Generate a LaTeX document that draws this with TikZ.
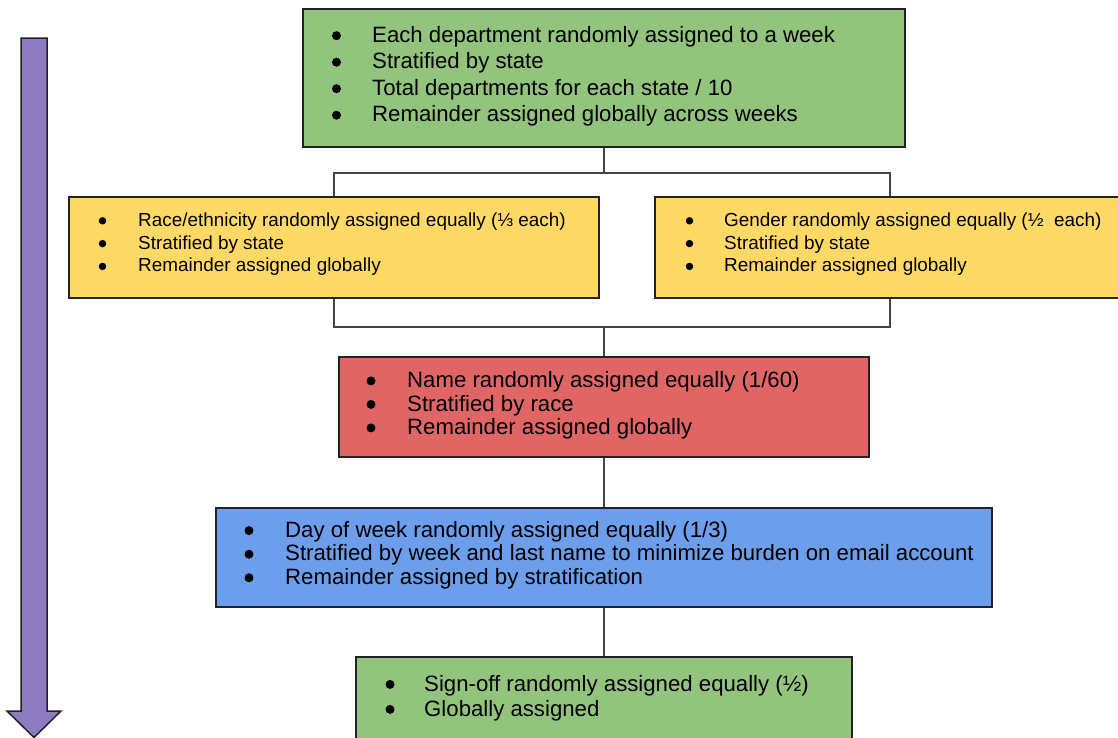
\documentclass[tikz,border=0pt]{standalone}
\usepackage{fontspec}
\setmainfont{Liberation Sans}
\usetikzlibrary{backgrounds}
\definecolor{ggreen}{HTML}{93C47D}
\definecolor{gyellow}{HTML}{FFD966}
\definecolor{gred}{HTML}{E06666}
\definecolor{gblue}{HTML}{6D9EEB}
\definecolor{gpurple}{HTML}{8E7CC3}
\definecolor{edge}{HTML}{222222}
\definecolor{cline}{HTML}{444444}
\begin{document}
\begin{tikzpicture}[x=1pt,y=-1pt,
  box/.style={draw=edge, line width=1.8pt, anchor=north west, inner sep=0pt, outer sep=0pt},
  conn/.style={draw=cline, line width=1.3pt},
  bigdot/.style={circle, fill=black, inner sep=0pt, minimum size=9pt},
  smalldot/.style={circle, fill=black, inner sep=0pt, minimum size=7.5pt},
  txt/.style={anchor=base west, inner sep=0pt},
  big/.style={font=\fontsize{22.2}{26}\selectfont},
  small/.style={font=\fontsize{18.9}{22}\selectfont}]
\useasboundingbox (0,0) rectangle (1118,737);
\clip (0,0) rectangle (1118,737);

% boxes
\node[box, fill=ggreen, minimum width=602pt, minimum height=138pt] (top) at (303,9) {};
\node[box, fill=gyellow, minimum width=530pt, minimum height=101pt] (lb) at (69,197) {};
\node[box, fill=gyellow, minimum width=470pt, minimum height=101pt] (rb) at (655,197) {};
\node[box, fill=gred, minimum width=530pt, minimum height=100pt] (red) at (339,357) {};
\node[box, fill=gblue, minimum width=776pt, minimum height=99pt] (blue) at (216,508) {};
\node[box, fill=ggreen, minimum width=496pt, minimum height=100pt] (g2) at (356,657) {};

% connectors (behind the boxes)
\coordinate (jt) at (604,173);
\coordinate (jb) at (604,327);
\begin{scope}[on background layer]
\fill[white] (0,0) rectangle (1118,737);
\draw[conn] (top.south) -- (jt);
\draw[conn] (lb.north) |- (jt) -| (rb.north);
\draw[conn] (lb.south) |- (jb) -| (rb.south);
\draw[conn] (jb) -- (red.north);
\draw[conn] (red.south) -- (blue.north);
\draw[conn] (blue.south) -- (g2.north);
\end{scope}

% texts
\foreach \t [count=\i] in {{Each department randomly assigned to a week},{Stratified by state},{Total departments for each state / 10},{Remainder assigned globally across weeks}}{
  \node[bigdot] (top-b\i) at (336.5,{42.3-6.6+26.5*(\i-1)}) {};
  \node[txt,big] (top-t\i) at (372,{42.3+26.5*(\i-1)}) {\t};
}
\foreach \t [count=\i] in {{Race/ethnicity randomly assigned equally (⅓ each)},{Stratified by state},{Remainder assigned globally}}{
  \node[smalldot] (lb-b\i) at (102.5,{226.3-5.5+22.8*(\i-1)}) {};
  \node[txt,small] (lb-t\i) at (138,{226.3+22.8*(\i-1)}) {\t};
}
\foreach \t [count=\i] in {{Gender randomly assigned equally (½\ \ each)},{Stratified by state},{Remainder assigned globally}}{
  \node[smalldot] (rb-b\i) at (689.5,{226.3-5.5+22.8*(\i-1)}) {};
  \node[txt,small] (rb-t\i) at (724,{226.3+22.8*(\i-1)}) {\t};
}
\foreach \t [count=\i] in {{Name randomly assigned equally (1/60)},{Stratified by race},{Remainder assigned globally}}{
  \node[bigdot] (red-b\i) at (371,{387.5-6.6+23.5*(\i-1)}) {};
  \node[txt,big] (red-t\i) at (407,{387.5+23.5*(\i-1)}) {\t};
}
\foreach \t [count=\i] in {{Day of week randomly assigned equally (1/3)},{Stratified by week and last name to minimize burden on email account},{Remainder assigned by stratification}}{
  \node[bigdot] (blue-b\i) at (249,{537.2-6.6+23.6*(\i-1)}) {};
  \node[txt,big] (blue-t\i) at (285,{537.2+23.6*(\i-1)}) {\t};
}
\foreach \t [count=\i] in {{Sign-off randomly assigned equally (½)},{Globally assigned}}{
  \node[bigdot] (g2-b\i) at (390,{691-6.6+25*(\i-1)}) {};
  \node[txt,big] (g2-t\i) at (424,{691+25*(\i-1)}) {\t};
}

% purple arrow
\draw[fill=gpurple, draw=edge, line width=1.5pt, line join=miter]
  (21,38) -- (47,38) -- (47,711) -- (61,711) -- (34,737.5) -- (7,711) -- (21,711) -- cycle;
\end{tikzpicture}
\end{document}
